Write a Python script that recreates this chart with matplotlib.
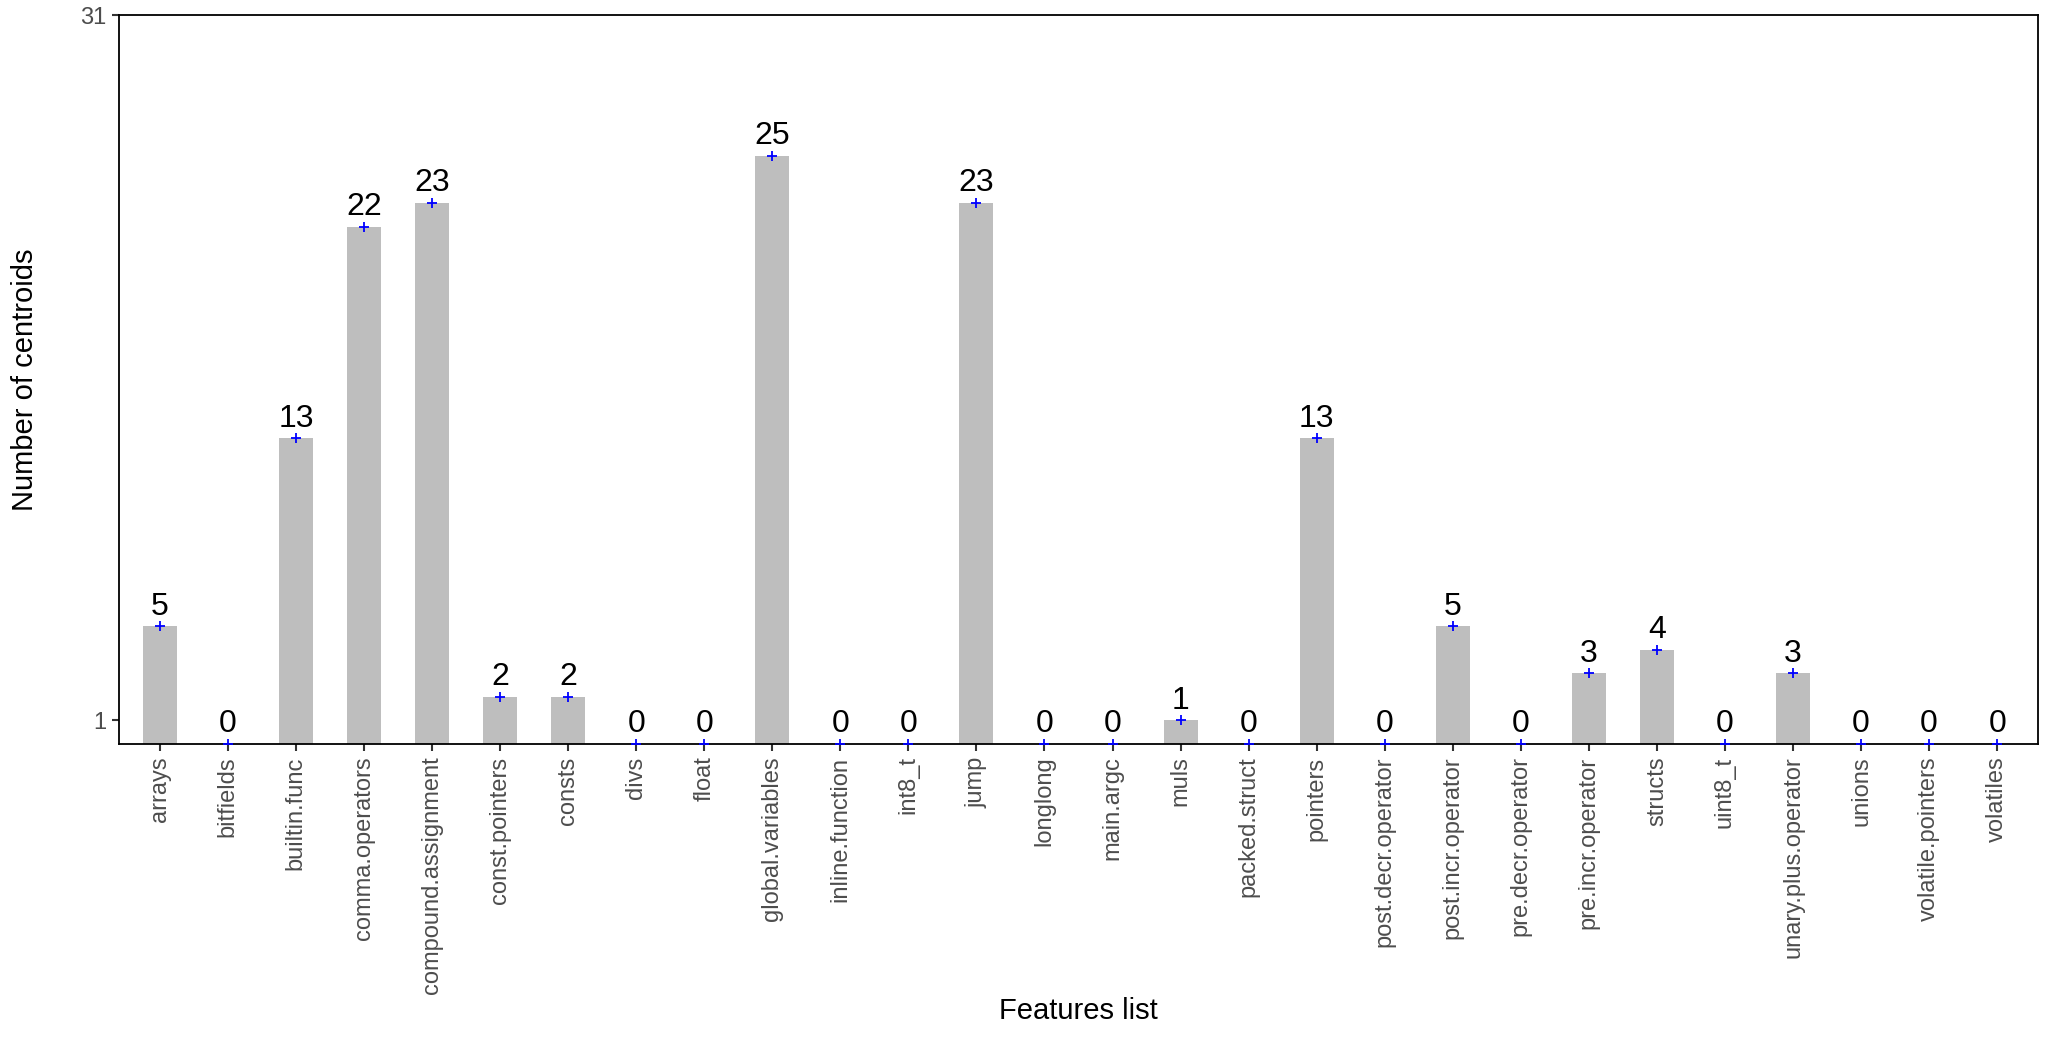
import matplotlib.pyplot as plt

plt.rcParams['font.family'] = ['Liberation Sans', 'DejaVu Sans']

features = ['arrays', 'bitfields', 'builtin.func', 'comma.operators',
            'compound.assignment', 'const.pointers', 'consts', 'divs', 'float',
            'global.variables', 'inline.function', 'int8_t', 'jump', 'longlong',
            'main.argc', 'muls', 'packed.struct', 'pointers',
            'post.decr.operator', 'post.incr.operator', 'pre.decr.operator',
            'pre.incr.operator', 'structs', 'uint8_t', 'unary.plus.operator',
            'unions', 'volatile.pointers', 'volatiles']
centroids = [5, 0, 13, 22, 23, 2, 2, 0, 0, 25, 0, 0, 23, 0, 0, 1, 0, 13,
             0, 5, 0, 3, 4, 0, 3, 0, 0, 0]

fig = plt.figure(figsize=(20.52, 10.4), dpi=100)
ax = fig.add_axes([119 / 2052, 1 - 744 / 1040, (2038 - 119) / 2052, (744 - 15) / 1040])

x = list(range(len(features)))
ax.bar(x, centroids, width=0.5, color='#BEBEBE', zorder=1)
ax.plot(x, centroids, linestyle='none', marker='+', color='blue',
        markersize=7, markeredgewidth=1.3, zorder=3)
for xi, v in zip(x, centroids):
    ax.text(xi, v + 0.2, str(v), ha='center', va='bottom', fontsize=23,
            color='black', zorder=4)

ax.set_xlim(-0.6, len(features) - 0.4)
ax.set_ylim(0, 31)
ax.set_yticks([1, 31])
ax.set_xticks(x)
ax.set_xticklabels(features, rotation=90, ha='center', va='top')
ax.tick_params(axis='both', colors='#333333', labelcolor='#4D4D4D',
               labelsize=17, length=5, width=1.5, pad=4)
for s in ax.spines.values():
    s.set_linewidth(1.3)
    s.set_color('black')

ax.set_xlabel('Features list', fontsize=21, va='center')
ax.xaxis.set_label_coords(0.5, -0.366)
ax.set_ylabel('Number of centroids', fontsize=21, va='center')
ax.yaxis.set_label_coords(-0.049, 0.5)

fig.savefig('out.png', dpi=100)
